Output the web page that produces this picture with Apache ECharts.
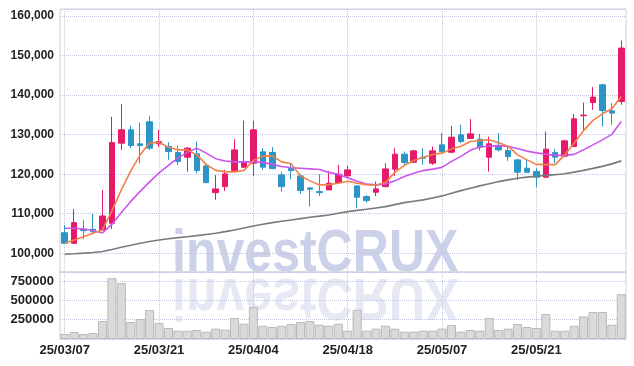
<!DOCTYPE html>
<html><head><meta charset="utf-8">
<script src="https://cdn.jsdelivr.net/npm/echarts@6/dist/echarts.min.js"></script>
<style>html,body{margin:0;padding:0;background:#fff}#c{width:634px;height:366px}</style>
</head><body><div id="c"></div>
<script>
const dates = ['25/03/07','25/03/10','25/03/11','25/03/12','25/03/13','25/03/14','25/03/17','25/03/18','25/03/19','25/03/20',
'25/03/21','25/03/24','25/03/25','25/03/26','25/03/27','25/03/28','25/03/31','25/04/01','25/04/02','25/04/03',
'25/04/04','25/04/07','25/04/08','25/04/09','25/04/10','25/04/11','25/04/14','25/04/15','25/04/16','25/04/17',
'25/04/18','25/04/21','25/04/22','25/04/23','25/04/24','25/04/25','25/04/28','25/04/29','25/04/30','25/05/02',
'25/05/07','25/05/08','25/05/09','25/05/12','25/05/13','25/05/14','25/05/15','25/05/16','25/05/19','25/05/20',
'25/05/21','25/05/22','25/05/23','25/05/26','25/05/27','25/05/28','25/05/29','25/05/30','25/06/02','25/06/04'];
const open = [105200,102530,106080,106080,105900,107600,127850,131220,127680,133250,
127680,127000,125470,124300,125140,122100,115340,116860,120910,121770,
122790,125650,125470,119820,121520,119570,116530,115600,116030,117880,
119570,117040,114330,115440,116860,121270,125070,123040,124300,122790,
127420,125570,129950,129040,128860,124300,127000,125980,123620,121520,
120660,119240,125470,124550,126990,134800,138130,142610,136030,138390];
const close = [102530,107750,105720,105470,109440,128000,131220,127250,127250,126590,
128260,125720,123190,126590,120910,117880,116280,120080,126150,122940,
131220,121770,121420,116860,120910,115850,116200,115340,117720,120000,
121090,114180,113320,116280,121340,125070,122940,125900,124050,125900,
125720,129370,128260,130200,126840,127680,126150,124460,120500,120500,
119240,126330,124300,128430,134000,134950,139500,136100,135450,151900];
const low = [102400,102350,103550,104890,105800,106100,126150,126580,122790,126150,
126840,123620,122360,120660,120260,117700,113500,115770,120660,121600,
119570,121090,121260,115600,118740,115010,111800,114500,116030,117720,
119400,111400,112810,114500,116700,119570,122360,122790,122360,122360,
125320,125320,127850,129040,125980,120660,125720,123370,118560,120260,
116710,118990,122790,124300,126840,130790,136280,132050,132490,137550];
const high = [107170,111200,108430,109950,116030,134500,137800,132230,133070,134760,
131220,128100,127170,126840,128260,122360,119820,121090,128860,133570,
133570,126590,126840,120660,122610,120080,116700,120000,120840,122360,
122100,117200,114690,118130,122790,126590,125720,126150,126590,126990,
130380,132230,132490,133930,130200,129530,130380,127000,123870,123620,
121520,130790,126330,128690,135200,138130,142030,142870,137980,153830];
const volume = [65000,91000,65000,78000,233000,789000,724000,220000,259000,375000,
207000,143000,108000,108000,117000,95000,134000,121000,272000,198000,
414000,172000,156000,172000,194000,220000,233000,185000,172000,198000,
108000,379000,108000,134000,172000,134000,95000,95000,108000,108000,
134000,181000,95000,117000,108000,272000,117000,134000,194000,156000,
143000,324000,108000,108000,172000,293000,350000,350000,185000,582000];
const ma5 = [102530,103370,104200,105060,105900,110710,116030,120840,124890,127930,
128060,126790,126160,126160,124890,122480,120970,120660,120590,120970,
123500,124560,124640,123120,122660,119570,118310,117290,117370,117720,
118230,117720,117370,117220,117930,120460,122230,123450,124260,124970,
125320,126410,127090,128260,128510,128690,127930,127090,124890,123620,
122480,122430,122430,124890,127850,131020,133620,135270,136540,139650];
const ma20 = [106330,106330,106150,105770,105140,107290,110330,113120,115650,118050,
120330,122230,124130,125520,126590,125320,123930,123320,123120,123120,
123120,122990,122480,121930,121650,121520,121350,121170,120460,119950,
119120,118230,117500,117290,117500,118310,119400,120260,120910,121290,
121720,123240,124510,126030,126860,127120,127220,126990,126480,125830,
125400,125070,124760,124760,125020,126160,127420,128690,130080,133320];
const ma60 = [99750,99870,100030,100200,100460,100960,101520,102030,102530,102990,
103370,103670,103950,104200,104460,104760,105060,105470,105900,106410,
106910,107340,107750,108100,108430,108760,109120,109390,109700,110130,
110530,110840,111140,111470,111800,112310,112810,113170,113500,114000,
114510,115190,115850,116460,117040,117600,118130,118560,118990,119270,
119500,119700,119880,120130,120530,120970,121470,121980,122610,123370];
const priceTicks = [100000,110000,120000,130000,140000,150000,160000];
const volumeTicks = [250000,500000,750000];

const FONT = "'Liberation Sans',Arial,sans-serif";
const UP = '#e6196b', DOWN = '#2b95c8';
function comma(v){ return String(v).replace(/\B(?=(\d{3})+(?!\d))/g, ','); }
const lab = (size) => ({color:'#222', fontSize:size, fontWeight:'bold', fontFamily:FONT});
const dotted = {show:true, lineStyle:{type:'dotted', color:'#c3c7de', width:1}};

const chart = echarts.init(document.getElementById('c'), null, {renderer:'canvas'});
chart.setOption({
  animation:false,
  backgroundColor:'#fff',
  grid:[
    {left:60, right:8, top:9, height:263, containLabel:false, outerBoundsMode:'none',
     show:true, borderColor:'#d0d0d0', borderWidth:1, backgroundColor:'transparent'},
    {left:60, right:8, top:272, height:67, containLabel:false, outerBoundsMode:'none',
     show:true, borderColor:'#d0d0d0', borderWidth:1, backgroundColor:'transparent'}
  ],
  graphic:[
    {type:'text', x:172, y:254, scaleX:0.834, z:0, silent:true,
     style:{text:'investCRUX', font:"bold 60px "+FONT, fill:'#cbd1e8', align:'left', verticalAlign:'middle'}},
    {type:'text', x:172, y:296, scaleX:0.834, scaleY:-1, z:0, silent:true,
     style:{text:'investCRUX', font:"bold 60px "+FONT, fill:'#e6e9f4', align:'left', verticalAlign:'middle'}}
  ],
  xAxis:[
    {type:'category', gridIndex:0, data:dates, boundaryGap:true,
     axisLine:{show:false}, axisTick:{show:false}, axisLabel:{show:false},
     splitLine:Object.assign({interval:9, alignWithLabel:true}, dotted)},
    {type:'category', gridIndex:1, data:dates, boundaryGap:true,
     axisLine:{show:false}, axisTick:{show:false},
     axisLabel:Object.assign({interval:9, margin:5}, lab(13)),
     splitLine:Object.assign({interval:9, alignWithLabel:true}, dotted)}
  ],
  yAxis:[
    {type:'value', gridIndex:0, min:95265, max:161780, splitNumber:5, scale:true,
     axisLine:{show:false}, axisTick:{show:false},
     axisLabel:Object.assign({margin:6, padding:[4,0,0,0], formatter:v => priceTicks.includes(v) ? comma(v) : ''}, lab(12)),
     splitLine:dotted},
    {type:'value', gridIndex:1, min:0, max:870000, interval:250000,
     axisLine:{show:false}, axisTick:{show:false},
     axisLabel:Object.assign({margin:6, padding:[3,0,0,0], formatter:v => volumeTicks.includes(v) ? String(v) : ''}, lab(13)),
     splitLine:dotted}
  ],
  series:[
    {type:'candlestick', xAxisIndex:0, yAxisIndex:0, barWidth:6,
     data:dates.map((d,i)=>[open[i], close[i], low[i], high[i]]),
     itemStyle:{color:UP, color0:DOWN, borderColor:UP, borderColor0:DOWN, borderWidth:1}},
    {type:'line', xAxisIndex:0, yAxisIndex:0, data:ma60, showSymbol:false, lineStyle:{color:'#7a7a7a', width:1.6}},
    {type:'line', xAxisIndex:0, yAxisIndex:0, data:ma20, showSymbol:false, lineStyle:{color:'#cc55ee', width:1.6}},
    {type:'line', xAxisIndex:0, yAxisIndex:0, data:ma5, showSymbol:false, lineStyle:{color:'#f08048', width:1.6}},
    {type:'bar', xAxisIndex:1, yAxisIndex:1, data:volume, barCategoryGap:'4%',
     itemStyle:{color:'#dadada', borderColor:'#b9b9b9', borderWidth:1}}
  ]
});
</script>
</body></html>
